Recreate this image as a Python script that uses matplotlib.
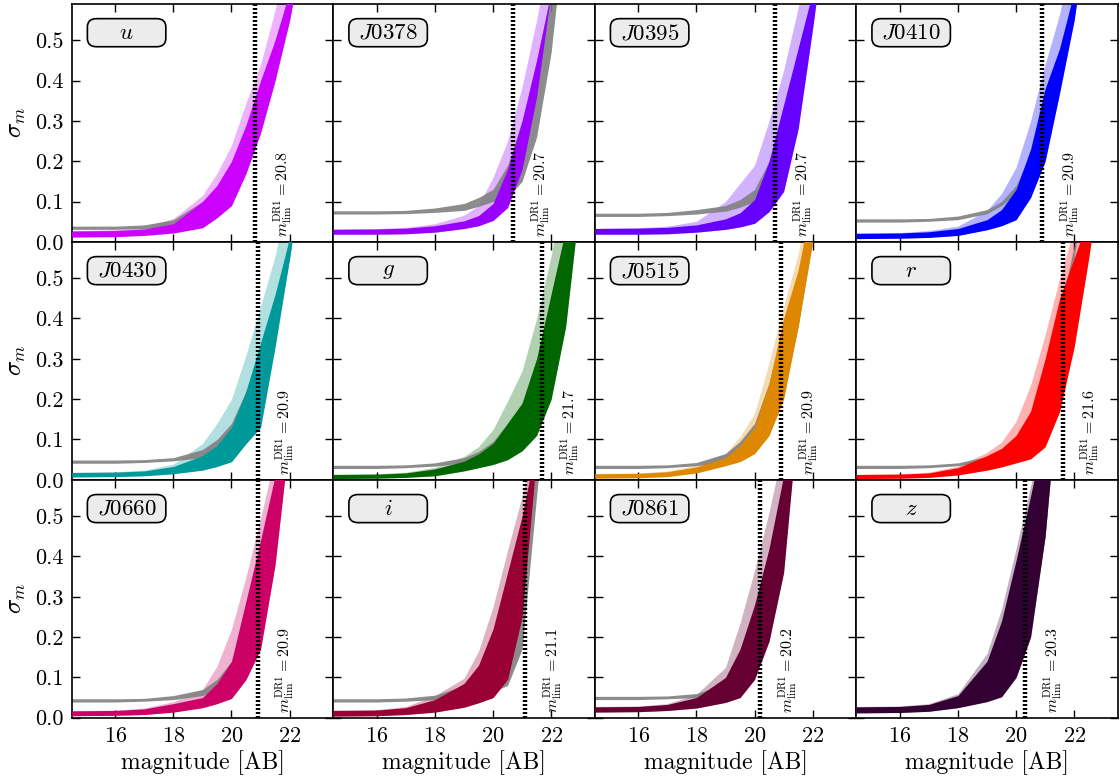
import matplotlib
matplotlib.use('Agg')
import matplotlib.pyplot as plt
from matplotlib.patches import FancyBboxPatch

plt.rcParams['font.family'] = 'serif'
plt.rcParams['font.serif'] = ['cmr10', 'DejaVu Serif']
plt.rcParams['mathtext.fontset'] = 'cm'
plt.rcParams['axes.formatter.use_mathtext'] = True

filters = ['u', 'J0378', 'J0395', 'J0410', 'J0430', 'g',
           'J0515', 'r', 'J0660', 'i', 'J0861', 'z']
colors = ['#CC00FF', '#9900FF', '#6600FF', '#0000FF', '#009999', '#006600',
          '#DD8800', '#FF0000', '#CC0066', '#990033', '#660033', '#330034']
mag_lim = [20.8, 20.7, 20.7, 20.9, 20.9, 21.7, 20.9, 21.6, 20.9, 21.1, 20.2, 20.3]

mag = [14.5, 16, 17, 18, 19, 19.5, 20, 20.5, 21, 21.5, 22, 22.5, 23]

# lower / upper edge of the dense coloured cloud
band_lo = [
    [0.012, 0.013, 0.016, 0.022, 0.035, 0.06, 0.09, 0.17, 0.27, 0.40, 0.55, 0.75, 1.0],
    [0.019, 0.019, 0.02, 0.024, 0.033, 0.04, 0.053, 0.085, 0.18, 0.36, 0.62, 0.9, 1.2],
    [0.019, 0.019, 0.02, 0.024, 0.031, 0.037, 0.046, 0.075, 0.125, 0.28, 0.53, 0.8, 1.1],
    [0.008, 0.009, 0.011, 0.016, 0.03, 0.04, 0.055, 0.11, 0.2, 0.37, 0.55, 0.8, 1.1],
    [0.007, 0.008, 0.01, 0.015, 0.024, 0.033, 0.045, 0.09, 0.13, 0.33, 0.55, 0.8, 1.1],
    [0.003, 0.004, 0.006, 0.01, 0.022, 0.03, 0.038, 0.05, 0.072, 0.11, 0.2, 0.38, 0.7],
    [0.004, 0.005, 0.008, 0.017, 0.035, 0.045, 0.065, 0.11, 0.2, 0.38, 0.59, 0.9, 1.2],
    [0.003, 0.004, 0.006, 0.012, 0.024, 0.032, 0.042, 0.052, 0.082, 0.17, 0.33, 0.55, 0.8],
    [0.005, 0.006, 0.008, 0.014, 0.025, 0.035, 0.048, 0.095, 0.17, 0.38, 0.7, 1.0, 1.3],
    [0.004, 0.005, 0.008, 0.014, 0.026, 0.037, 0.05, 0.095, 0.25, 0.65, 1.0, 1.3, 1.6],
    [0.014, 0.015, 0.018, 0.024, 0.038, 0.05, 0.095, 0.19, 0.36, 0.75, 1.0, 1.3, 1.6],
    [0.012, 0.013, 0.016, 0.025, 0.04, 0.052, 0.1, 0.2, 0.45, 0.85, 1.2, 1.5, 1.8],
]
band_hi = [
    [0.027, 0.028, 0.032, 0.045, 0.1, 0.14, 0.2, 0.29, 0.4, 0.5, 0.62, 0.85, 1.1],
    [0.031, 0.032, 0.034, 0.04, 0.052, 0.065, 0.095, 0.18, 0.3, 0.45, 0.62, 0.9, 1.2],
    [0.033, 0.034, 0.036, 0.042, 0.057, 0.072, 0.105, 0.2, 0.34, 0.48, 0.62, 0.9, 1.2],
    [0.021, 0.022, 0.025, 0.033, 0.055, 0.08, 0.13, 0.23, 0.38, 0.48, 0.62, 0.9, 1.2],
    [0.018, 0.019, 0.022, 0.033, 0.06, 0.085, 0.13, 0.22, 0.34, 0.46, 0.6, 0.85, 1.2],
    [0.013, 0.014, 0.017, 0.027, 0.046, 0.064, 0.09, 0.14, 0.19, 0.3, 0.46, 0.62, 0.9],
    [0.015, 0.016, 0.02, 0.032, 0.055, 0.085, 0.13, 0.24, 0.4, 0.52, 0.7, 1.0, 1.3],
    [0.013, 0.014, 0.017, 0.03, 0.06, 0.078, 0.11, 0.17, 0.3, 0.45, 0.55, 0.65, 0.9],
    [0.017, 0.018, 0.022, 0.035, 0.05, 0.085, 0.14, 0.29, 0.44, 0.6, 0.85, 1.1, 1.4],
    [0.018, 0.019, 0.025, 0.045, 0.085, 0.13, 0.22, 0.36, 0.5, 0.68, 0.9, 1.2, 1.5],
    [0.027, 0.028, 0.033, 0.05, 0.1, 0.17, 0.28, 0.42, 0.6, 0.85, 1.1, 1.4, 1.7],
    [0.027, 0.028, 0.033, 0.055, 0.14, 0.24, 0.39, 0.55, 0.72, 0.9, 1.2, 1.5, 1.8],
]
# upper edge of the sparse (outlier) coloured points
band_out = [
    [0.028, 0.03, 0.036, 0.058, 0.115, 0.17, 0.24, 0.345, 0.44, 0.575, 0.735, 0.975, 1.25],
    [0.032, 0.033, 0.036, 0.045, 0.066, 0.09, 0.16, 0.25, 0.385, 0.55, 0.735, 1.0, 1.3],
    [0.034, 0.035, 0.039, 0.051, 0.1, 0.145, 0.19, 0.3, 0.425, 0.58, 0.75, 1.0, 1.3],
    [0.022, 0.023, 0.028, 0.039, 0.078, 0.12, 0.185, 0.3, 0.44, 0.565, 0.735, 1.0, 1.3],
    [0.019, 0.02, 0.024, 0.039, 0.09, 0.14, 0.2, 0.31, 0.43, 0.555, 0.725, 0.975, 1.3],
    [0.014, 0.015, 0.019, 0.031, 0.058, 0.082, 0.125, 0.195, 0.27, 0.4, 0.555, 0.76, 1.05],
    [0.016, 0.017, 0.022, 0.036, 0.065, 0.107, 0.165, 0.29, 0.43, 0.56, 0.75, 1.05, 1.35],
    [0.014, 0.015, 0.019, 0.034, 0.068, 0.094, 0.145, 0.235, 0.36, 0.5, 0.625, 0.775, 1.05],
    [0.018, 0.019, 0.024, 0.04, 0.07, 0.128, 0.22, 0.35, 0.495, 0.65, 0.875, 1.15, 1.45],
    [0.019, 0.02, 0.028, 0.055, 0.098, 0.165, 0.275, 0.415, 0.55, 0.715, 0.925, 1.2, 1.5],
    [0.028, 0.029, 0.035, 0.058, 0.125, 0.235, 0.365, 0.51, 0.675, 0.9, 1.15, 1.45, 1.75],
    [0.028, 0.029, 0.035, 0.06, 0.16, 0.27, 0.42, 0.575, 0.735, 0.9, 1.2, 1.5, 1.8],
]
# grey reference sample: lower and upper edge
gray_lo = [
    [0.031, 0.031, 0.033, 0.04, 0.06, 0.08, 0.12, 0.19, 0.3, 0.42, 0.55, 0.75, 1.0],
    [0.069, 0.069, 0.07, 0.073, 0.078, 0.088, 0.1, 0.11, 0.15, 0.26, 0.47, 0.8, 1.2],
    [0.063, 0.063, 0.065, 0.069, 0.076, 0.086, 0.1, 0.13, 0.18, 0.32, 0.55, 0.85, 1.2],
    [0.049, 0.049, 0.051, 0.055, 0.07, 0.09, 0.12, 0.17, 0.25, 0.4, 0.6, 0.85, 1.2],
    [0.041, 0.041, 0.043, 0.047, 0.055, 0.07, 0.1, 0.14, 0.2, 0.36, 0.55, 0.8, 1.1],
    [0.028, 0.028, 0.03, 0.034, 0.042, 0.05, 0.065, 0.09, 0.12, 0.17, 0.27, 0.45, 0.75],
    [0.028, 0.028, 0.03, 0.035, 0.045, 0.06, 0.09, 0.14, 0.22, 0.38, 0.6, 0.9, 1.2],
    [0.028, 0.028, 0.03, 0.035, 0.045, 0.055, 0.075, 0.12, 0.2, 0.35, 0.55, 0.8, 1.1],
    [0.039, 0.039, 0.041, 0.045, 0.055, 0.07, 0.1, 0.17, 0.3, 0.55, 0.85, 1.1, 1.4],
    [0.039, 0.039, 0.041, 0.045, 0.05, 0.056, 0.065, 0.08, 0.17, 0.55, 0.9, 1.2, 1.5],
    [0.045, 0.045, 0.047, 0.05, 0.06, 0.08, 0.12, 0.22, 0.4, 0.75, 1.0, 1.3, 1.6],
    [0.016, 0.016, 0.019, 0.028, 0.045, 0.06, 0.11, 0.22, 0.45, 0.85, 1.2, 1.5, 1.8],
]
gray_hi = [
    [0.039, 0.039, 0.042, 0.055, 0.1, 0.13, 0.18, 0.27, 0.38, 0.5, 0.62, 0.85, 1.1],
    [0.077, 0.077, 0.078, 0.084, 0.095, 0.11, 0.13, 0.19, 0.3, 0.45, 0.62, 0.9, 1.2],
    [0.071, 0.071, 0.073, 0.08, 0.09, 0.105, 0.13, 0.2, 0.32, 0.46, 0.6, 0.9, 1.2],
    [0.057, 0.057, 0.058, 0.064, 0.08, 0.1, 0.14, 0.22, 0.35, 0.48, 0.62, 0.9, 1.2],
    [0.049, 0.049, 0.05, 0.055, 0.075, 0.1, 0.14, 0.22, 0.33, 0.45, 0.6, 0.85, 1.2],
    [0.036, 0.036, 0.037, 0.042, 0.055, 0.07, 0.095, 0.14, 0.19, 0.3, 0.46, 0.62, 0.9],
    [0.036, 0.036, 0.037, 0.043, 0.065, 0.095, 0.14, 0.24, 0.38, 0.5, 0.7, 1.0, 1.3],
    [0.036, 0.036, 0.037, 0.042, 0.058, 0.075, 0.1, 0.16, 0.26, 0.42, 0.58, 0.8, 1.1],
    [0.047, 0.047, 0.048, 0.055, 0.07, 0.095, 0.14, 0.25, 0.4, 0.6, 0.85, 1.1, 1.4],
    [0.047, 0.047, 0.049, 0.056, 0.08, 0.11, 0.17, 0.28, 0.42, 0.62, 0.9, 1.2, 1.5],
    [0.053, 0.053, 0.054, 0.06, 0.085, 0.13, 0.2, 0.32, 0.5, 0.75, 1.0, 1.3, 1.6],
    [0.024, 0.024, 0.027, 0.035, 0.07, 0.12, 0.2, 0.35, 0.55, 0.85, 1.2, 1.5, 1.8],
]

fig, axes = plt.subplots(3, 4, sharex=True, sharey=True, figsize=(11.2, 7.81), dpi=100)
fig.subplots_adjust(left=0.064, right=0.998, bottom=0.081, top=0.995, wspace=0, hspace=0)

for k, ax in enumerate(axes.flat):
    c = colors[k]
    ax.fill_between(mag, band_lo[k], band_out[k], color=c, alpha=0.3, lw=0, zorder=1)
    ax.fill_between(mag, gray_lo[k], gray_hi[k], color='#808080', alpha=0.9, lw=0, zorder=2)
    ax.fill_between(mag, band_lo[k], band_hi[k], color=c, lw=0, zorder=3)
    ax.axvline(mag_lim[k], color='k', ls=(0, (0.45, 0.45)), lw=3.2, zorder=4)
    ax.text(mag_lim[k] + 0.95, 0.012, r'$m_{\rm lim}^{\rm DR1} = %.1f$' % mag_lim[k],
            rotation=90, ha='center', va='bottom', fontsize=11.5, zorder=5)

    box = FancyBboxPatch((0.06, 0.82), 0.30, 0.118,
                         boxstyle='round,pad=0,rounding_size=0.035',
                         transform=ax.transAxes, fc='#ececec', ec='k', lw=1.2,
                         zorder=6, clip_on=False)
    ax.add_patch(box)
    ax.text(0.21, 0.877, '$%s$' % filters[k], transform=ax.transAxes,
            ha='center', va='center', fontsize=16.5, zorder=7)

    ax.tick_params(direction='in', top=True, right=True, length=6, width=1,
                   labelsize=16, pad=6)
    for sp in ax.spines.values():
        sp.set_linewidth(1.2)

for ax in axes[-1]:
    ax.set_xlabel('magnitude [AB]', fontsize=17, labelpad=3)
for ax in axes[:, 0]:
    ax.set_ylabel(r'$\sigma_m$', fontsize=18, labelpad=5)

axes[0, 0].set_xlim(14.5, 23.5)
axes[0, 0].set_ylim(0, 0.59)
axes[0, 0].set_xticks([16, 18, 20, 22])
axes[0, 0].set_yticks([0.0, 0.1, 0.2, 0.3, 0.4, 0.5])
axes[0, 0].set_yticklabels(['0.0', '0.1', '0.2', '0.3', '0.4', '0.5'])

fig.savefig('out.png', dpi=100)
